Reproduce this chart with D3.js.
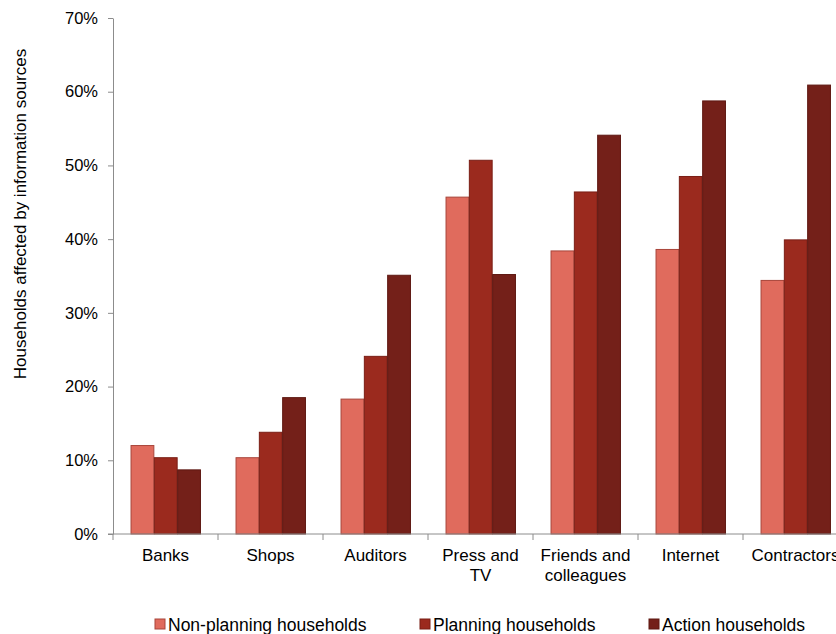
<!DOCTYPE html>
<html><head><meta charset="utf-8">
<script src="https://cdn.jsdelivr.net/npm/d3@7"></script>
<style>body{margin:0;background:#fff}svg{display:block}text{font-family:"Liberation Sans",Arial,sans-serif;fill:#000}</style>
</head><body><svg id="c" width="836" height="634"></svg>
<script>
const categories = ["Banks","Shops","Auditors","Press and TV","Friends and colleagues","Internet","Contractors"];
const categoryLines = [["Banks"],["Shops"],["Auditors"],["Press and","TV"],["Friends and","colleagues"],["Internet"],["Contractors"]];
const seriesNames = ["Non-planning households","Planning households","Action households"];
const nonPlanning = [12.0,10.35,18.3,45.7,38.4,38.6,34.4];
const planning = [10.35,13.8,24.1,50.7,46.4,48.5,39.9];
const action = [8.7,18.5,35.1,35.2,54.1,58.75,60.9];
const yTicks = [0,10,20,30,40,50,60,70];
const colors = ["#E06B5D","#9B2A1E","#742019"];
const strokes = ["#A8453A","#7A1E15","#5E1812"];

const svg = d3.select("#c");
const mLeft = 113, mRight = 848, mTop = 18, mBottom = 534;
const x = d3.scaleBand().domain(categories).range([mLeft,mRight]).paddingInner(0).paddingOuter(0);
const y = d3.scaleLinear().domain([0,70]).range([mBottom,mTop]);
const groupPad = 0.167;
const x1 = d3.scaleBand().domain(seriesNames).range([x.bandwidth()*groupPad, x.bandwidth()*(1-groupPad)]);
const data = [nonPlanning, planning, action];

// y axis
const ya = svg.append("g").attr("transform",`translate(${mLeft},0)`)
  .call(d3.axisLeft(y).tickValues(yTicks).tickFormat(d=>d+"%").tickSize(5).tickSizeOuter(0));
ya.select(".domain").attr("stroke","#8c8c8c");
ya.selectAll(".tick line").attr("stroke","#8c8c8c");
ya.selectAll(".tick text").attr("font-size",16.5).attr("x",-15).attr("fill","#000").attr("font-family","Liberation Sans, Arial, sans-serif");

// bars
categories.forEach((c,i)=>{
  const g = svg.append("g").attr("transform",`translate(${x(c)},0)`);
  seriesNames.forEach((s,j)=>{
    const v = data[j][i];
    g.append("rect").attr("x",x1(s)+0.5).attr("width",x1.bandwidth()-0.5)
      .attr("y",y(v)).attr("height",mBottom-y(v))
      .attr("fill",colors[j]).attr("stroke",strokes[j]).attr("stroke-width",1);
  });
});

// x axis
const xa = svg.append("g").attr("transform",`translate(0,${mBottom})`);
xa.append("line").attr("x1",mLeft-5).attr("x2",mRight).attr("stroke","#8c8c8c");
categories.forEach((c,i)=>{
  xa.append("line").attr("x1",x(c)).attr("x2",x(c)).attr("y1",0).attr("y2",6).attr("stroke","#8c8c8c");
  const t = xa.append("text").attr("text-anchor","middle").attr("font-size",17).attr("y",27);
  categoryLines[i].forEach((l,k)=>t.append("tspan").attr("x",x(c)+x.bandwidth()/2).attr("dy",k?20:0).text(l));
});

// y label
svg.append("text").attr("transform","translate(26,214) rotate(-90)").attr("text-anchor","middle")
  .attr("font-size",17).text("Households affected by information sources");

// legend
const legX = [155,420,649];
seriesNames.forEach((s,j)=>{
  svg.append("rect").attr("x",legX[j]).attr("y",619).attr("width",10).attr("height",10)
    .attr("fill",colors[j]).attr("stroke",strokes[j]);
  svg.append("text").attr("x",legX[j]+13).attr("y",631).attr("font-size",17.5).text(s);
});
</script></body></html>
